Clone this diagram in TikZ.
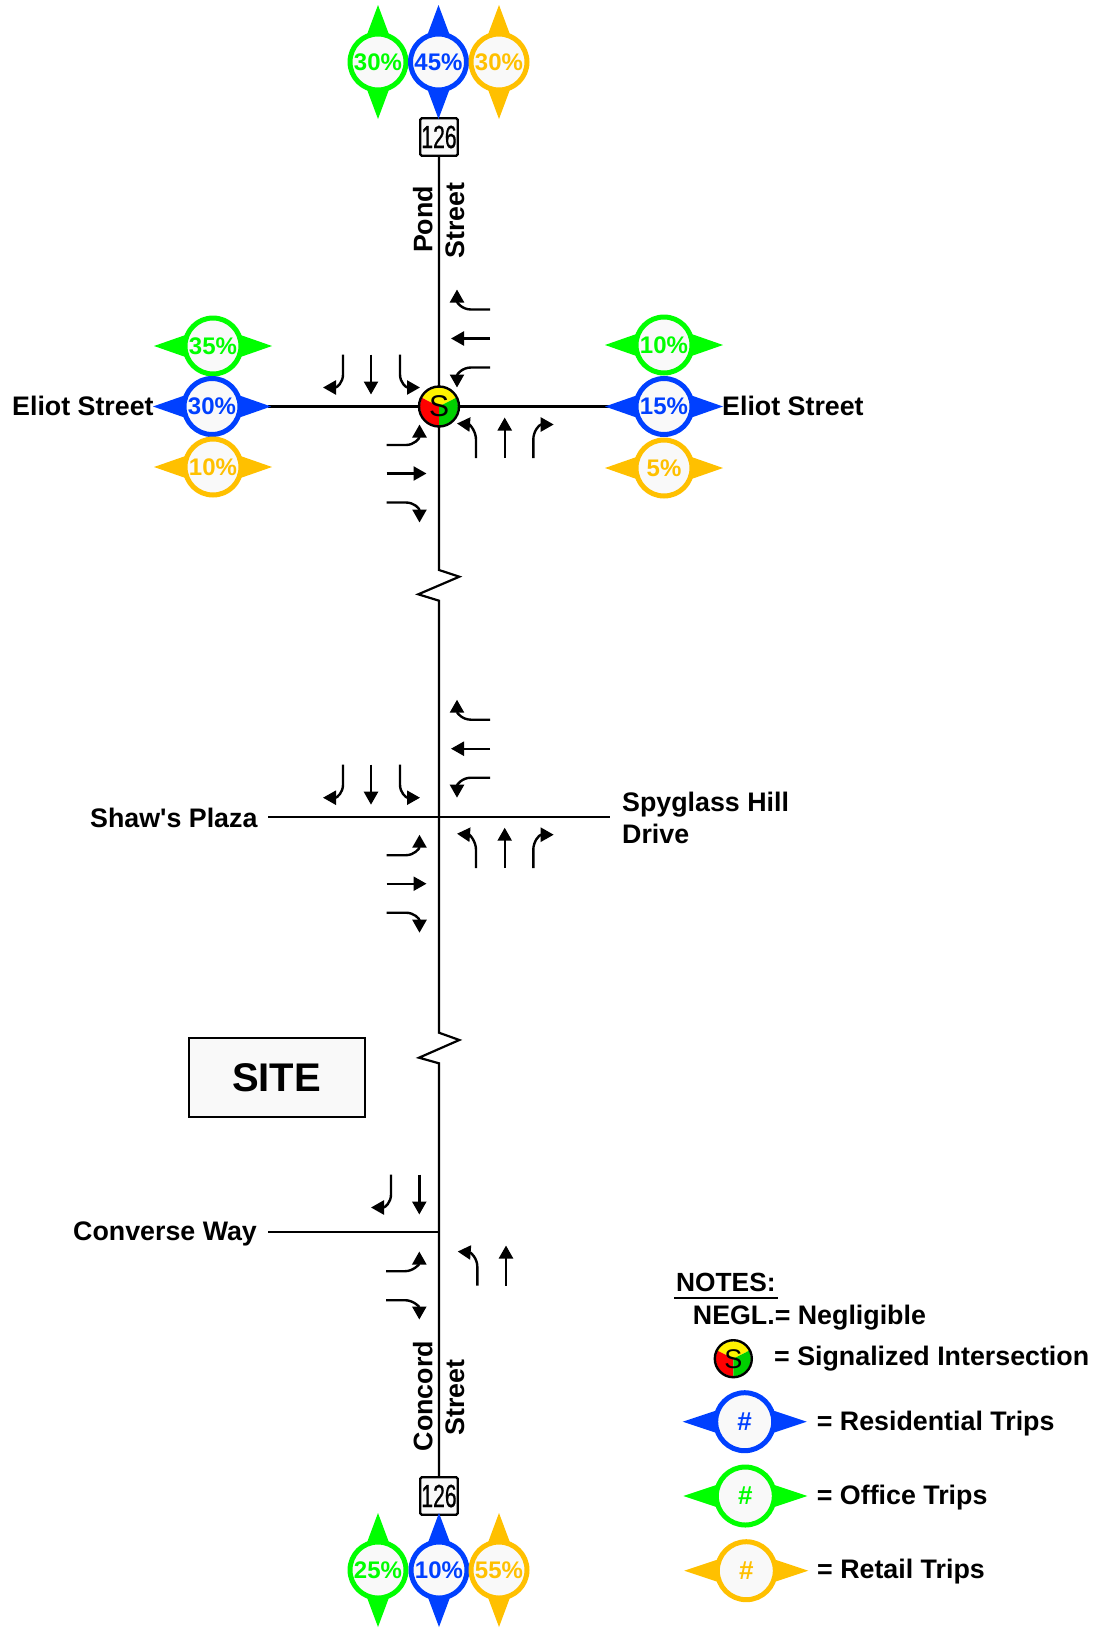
\documentclass[tikz,border=0pt]{standalone}
\usepackage{fontspec}
\setmainfont{Liberation Sans}
\newfontfamily\shieldfont[FakeStretch=0.66,FakeBold=0.6]{Liberation Sans}
\newfontfamily\plainfont{Liberation Sans}
\usetikzlibrary{arrows.meta,backgrounds}
\definecolor{cgreen}{HTML}{00FF00}
\definecolor{cblue}{HTML}{0040FF}
\definecolor{corange}{HTML}{FFC000}
\definecolor{cfill}{HTML}{F9F9F9}
\definecolor{sgreen}{HTML}{00D000}
\tikzset{
  road/.style={line width=2.2pt,black},
  lane/.style={line width=2.4pt,black,-{Triangle[length=13pt,width=14pt]}},
  lbl/.style={font=\fontsize{26.8}{28}\selectfont\bfseries,inner sep=0pt,anchor=base west},
  vlbl/.style={font=\fontsize{26.8}{28}\selectfont\bfseries,inner sep=0pt,rotate=90},
  ring/.style={circle,draw=#1,fill=cfill,line width=5pt,minimum size=56pt,inner sep=0pt,text=#1,font=\fontsize{24}{26}\selectfont\bfseries},
  shieldbox/.style={draw,fill=cfill,line width=2.2pt,rounded corners=1.5pt,minimum width=37.5pt,minimum height=37.5pt,inner sep=0pt,font=\fontsize{32}{34}\selectfont\shieldfont},
  signaldisc/.style={circle,draw,line width=2.4pt,minimum size=#1,inner sep=0pt}
}
\newcommand{\rtxt}[1]{\raisebox{-2pt}{#1}}
\newcommand{\hbadge}[6][59]{% tip, name, x, y, colour, text
  \fill[#5] (#3-#1,#4) -- (#3-27.5,#4-11) -- (#3-27.5,#4+11) -- cycle;
  \fill[#5] (#3+#1,#4) -- (#3+27.5,#4-11) -- (#3+27.5,#4+11) -- cycle;
  \node[ring=#5] (#2) at (#3,#4) {\rtxt{#6}};
}
\newcommand{\vbadge}[5]{% name, x, y, colour, text
  \fill[#4] (#2,#3-57) -- (#2-11,#3-27.5) -- (#2+11,#3-27.5) -- cycle;
  \fill[#4] (#2,#3+57) -- (#2-11,#3+27.5) -- (#2+11,#3+27.5) -- cycle;
  \node[ring=#4] (#1) at (#2,#3) {\rtxt{#5}};
}
\newcommand{\lbadge}[5]{% name, x, y, colour, text
  \fill[#4] (#2-62,#3) -- (#2-29,#3-11) -- (#2-29,#3+11) -- cycle;
  \fill[#4] (#2+62,#3) -- (#2+29,#3-11) -- (#2+29,#3+11) -- cycle;
  \node[ring=#4,minimum size=58pt,font=\fontsize{26}{28}\selectfont\bfseries] (#1) at (#2,#3) {#5};
}
\newcommand{\signal}[3]{% x,y,radius
  \fill[yellow] (#1,#2) -- ++(-27:#3) arc[start angle=-27,end angle=-153,radius=#3] -- cycle;
  \fill[red] (#1,#2) -- ++(-153:#3) arc[start angle=-153,end angle=-270,radius=#3] -- cycle;
  \fill[sgreen] (#1,#2) -- ++(-270:#3) arc[start angle=-270,end angle=-387,radius=#3] -- cycle;
}
\newcommand{\fourlanes}{%
  \draw[lane] (51,-97) -- (32,-97) .. controls (23,-97) and (18,-104) .. (18,-117);
  \draw[lane] (51,-68) -- (12,-68);
  \draw[lane] (51,-39) -- (32,-39) .. controls (23,-39) and (18,-32) .. (18,-19);
  \draw[lane] (-96,-52) -- (-96,-32) .. controls (-96,-24) and (-102,-19) .. (-116,-19);
  \draw[lane] (-68,-52) -- (-68,-12);
  \draw[lane] (-39,-52) -- (-39,-32) .. controls (-39,-24) and (-33,-19) .. (-19,-19);
  \draw[lane] (-52.5,38.5) -- (-33,38.5) .. controls (-25,38.5) and (-19.5,32) .. (-19.5,18);
  \draw[lane] (-52.5,67) -- (-12.5,67);
  \draw[lane] (-52.5,96) -- (-33,96) .. controls (-25,96) and (-19.5,102) .. (-19.5,116);
  \draw[lane] (37,51.5) -- (37,33) .. controls (37,25) and (31,18) .. (18,17);
  \draw[lane] (65.7,51.5) -- (65.7,11);
  \draw[lane] (94.3,51.5) -- (94.3,33) .. controls (94.3,25) and (100,18) .. (114.7,18);
}
\begin{document}
\begin{tikzpicture}[x=1pt,y=-1pt]
\useasboundingbox (0,0) rectangle (1105,1630);
% junction coordinates
\coordinate (j1) at (439,406.5);
\coordinate (j2) at (439,816.7);
\coordinate (j3) at (439,1232);
\coordinate (w1) at (268,406.5);
\coordinate (e1) at (609,406.5);
\coordinate (w2) at (268,816.7);
\coordinate (e2) at (610,816.7);
\coordinate (w3) at (268,1232);
% shields
\node[shieldbox] (shieldN) at (439,137) {126};
\node[shieldbox] (shieldS) at (439,1496) {126};
% badges top
\vbadge{tg}{378}{62}{cgreen}{30\%}
\vbadge{tb}{438.5}{62}{cblue}{45\%}
\vbadge{to}{499}{62}{corange}{30\%}
% badges bottom
\vbadge{bg}{378}{1570}{cgreen}{25\%}
\vbadge{bb}{439}{1570}{cblue}{10\%}
\vbadge{bo}{499}{1570}{corange}{55\%}
% badges left
\hbadge{lg}{213}{346}{cgreen}{35\%}
\hbadge{lb}{212}{406.5}{cblue}{30\%}
\hbadge{lo}{213}{467}{corange}{10\%}
% badges right
\hbadge{rg}{664}{345}{cgreen}{10\%}
\hbadge{rb}{664}{406.5}{cblue}{15\%}
\hbadge{ro}{664}{468}{corange}{5\%}
% signal
\signal{439}{406.5}{19}
\node[signaldisc=40pt,font=\fontsize{30}{32}\selectfont] (sig) at (j1) {\raisebox{-2pt}{S}};
\signal{733.3}{1358.7}{17.5}
\node[signaldisc=37pt,font=\fontsize{27}{29}\selectfont] (sigl) at (733.3,1358.7) {\raisebox{-2pt}{S}};
% roads
\begin{scope}[on background layer]
\draw[road] (shieldN) -- (439,570) -- (459.3,576.7) -- (418.3,594.3) -- (439,600.7) -- (j2);
\draw[road] (j2) -- (439,1032.7) -- (459.3,1040) -- (419,1057.7) -- (439,1063.3) -- (shieldS);
\draw[road] (w1) -- (e1);
\draw[road] (w2) -- (e2);
\draw[road] (w3) -- (j3);
\end{scope}
% lanes
\begin{scope}[shift={(439,406.5)}]\fourlanes\end{scope}
\begin{scope}[shift={(439,816.7)}]\fourlanes\end{scope}
\begin{scope}[shift={(439,1232.5)}]
  \draw[lane] (-48,-58) -- (-48,-38) .. controls (-48,-30) and (-54,-25) .. (-68,-25);
  \draw[lane] (-19.7,-58) -- (-19.7,-18);
  \draw[lane] (-53,38.7) -- (-34,38.7) .. controls (-26,38.7) and (-19.7,32) .. (-19.7,19);
  \draw[lane] (-53,67.7) -- (-34,67.7) .. controls (-26,67.7) and (-19.7,74) .. (-19.7,87);
  \draw[lane] (38.3,53) -- (38.3,34) .. controls (38.3,26) and (32,20) .. (18.7,19);
  \draw[lane] (67,53) -- (67,13);
\end{scope}
% road labels
\node[vlbl] (pond) at (422.7,219.5) {Pond};
\node[vlbl] (street) at (455,220.5) {Street};
\node[vlbl] (concord) at (422.7,1396) {Concord};
\node[vlbl] (cstreet) at (455,1397.5) {Street};
\node[lbl] (eliotw) at (12,415) {Eliot Street};
\node[lbl] (elioe) at (722,415) {Eliot Street};
\node[lbl] (shaws) at (90,827) {Shaw{\plainfont\bfseries '}s Plaza};
\node[lbl] (spy1) at (622,811) {Spyglass Hill};
\node[lbl] (spy2) at (622,843) {Drive};
\node[lbl] (conv) at (73,1240) {Converse Way};
% site
\node[draw,fill=cfill,line width=2pt,minimum width=176pt,minimum height=79pt,inner sep=0pt,font=\fontsize{40}{42}\selectfont\bfseries] (site) at (276.5,1077.5) {SITE};
% notes
\node[lbl,font=\fontsize{26.3}{28}\selectfont\bfseries] (notes) at (676,1291.7) {NOTES:};
\draw[line width=2pt] (674,1298) -- (778,1298);
\node[lbl] (negl) at (692.7,1324.3) {NEGL.= Negligible};
\node[lbl] (nsig) at (774,1365.3) {= Signalized Intersection};
\lbadge{nr}{744.7}{1421.7}{cblue}{\#}
\lbadge{no}{745.3}{1496}{cgreen}{\#}
\lbadge{nt}{746.3}{1570.7}{corange}{\#}
\node[lbl] (nrt) at (816.7,1430) {= Residential Trips};
\node[lbl] (not) at (816.7,1504) {= Office Trips};
\node[lbl] (ntt) at (817,1578) {= Retail Trips};
\end{tikzpicture}
\end{document}
